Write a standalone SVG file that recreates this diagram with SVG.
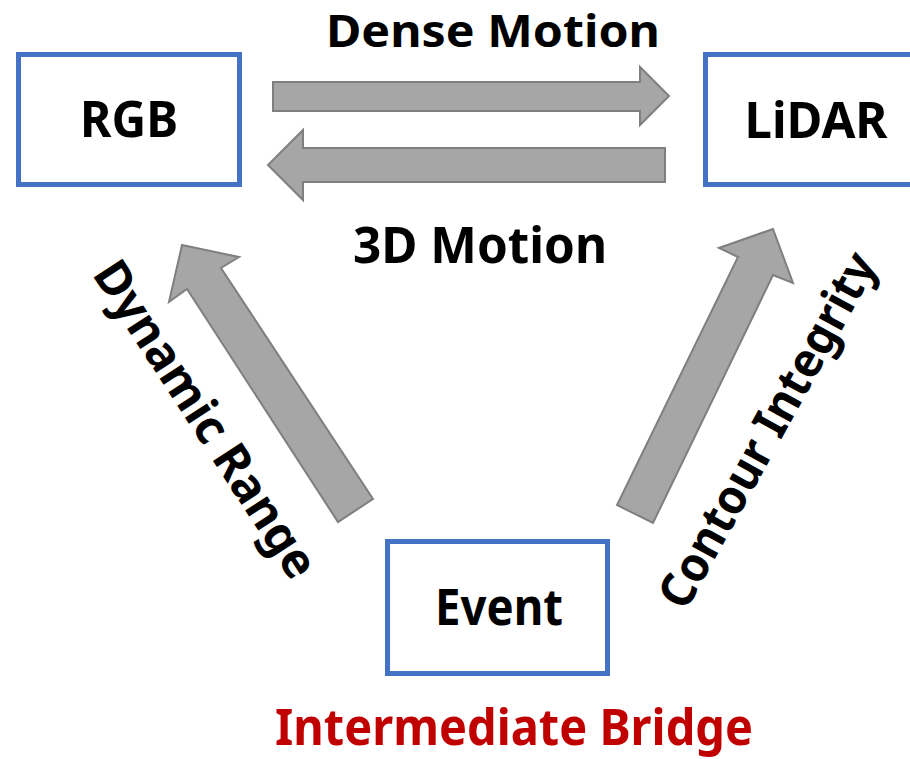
<svg xmlns="http://www.w3.org/2000/svg" width="910" height="759" viewBox="0 0 910 759">
  <style>
    .box { fill: #ffffff; stroke: #4472c4; stroke-width: 5; }
    .arrow { fill: #a6a6a6; stroke: #7f7f7f; stroke-width: 2; stroke-linejoin: miter; }
    .lbl { font-family: "Noto Sans", "Open Sans", "Liberation Sans", sans-serif; font-weight: bold; fill: #000000; text-anchor: middle; }
    .red { fill: #c00000; }
  </style>
  <rect width="910" height="759" fill="#ffffff"/>

  <!-- block arrows between the modalities -->
  <g id="connectors">
    <polygon class="arrow" points="273,82 640,82 640,67 669,96 640,125 640,111 273,111"/>
    <polygon class="arrow" points="665,148 303,148 303,130 268,165 303,200 303,182 665,182"/>
    <polygon class="arrow" points="182,245 239,257 221,268 373,499 338,522 187,289 169,302"/>
    <polygon class="arrow" points="773,229 793,283 773,275 653,523 617,505 738,257 719,248"/>
  </g>

  <!-- arrow labels -->
  <g id="labels">
    <text class="lbl" x="493" y="47" font-size="44" textLength="334" lengthAdjust="spacingAndGlyphs">Dense Motion</text>
    <text class="lbl" x="480" y="263" font-size="50" textLength="254" lengthAdjust="spacingAndGlyphs">3D Motion</text>
    <text class="lbl" font-size="48" transform="translate(206,419) rotate(57)" y="17" textLength="368" lengthAdjust="spacingAndGlyphs">Dynamic Range</text>
    <text class="lbl" font-size="48" transform="translate(767,430) rotate(-61)" y="17" textLength="398" lengthAdjust="spacingAndGlyphs">Contour Integrity</text>
    <text class="lbl red" x="514" y="745" font-size="50" textLength="478" lengthAdjust="spacingAndGlyphs">Intermediate Bridge</text>
  </g>

  <g id="rgb">
    <rect class="box" x="18.5" y="54.5" width="221" height="130"/>
    <text class="lbl" x="129" y="137" font-size="50" textLength="98" lengthAdjust="spacingAndGlyphs">RGB</text>
  </g>

  <g id="lidar">
    <rect class="box" x="705.5" y="54.5" width="221" height="130"/>
    <text class="lbl" x="816" y="138" font-size="50" textLength="143" lengthAdjust="spacingAndGlyphs">LiDAR</text>
  </g>

  <g id="event">
    <rect class="box" x="387.5" y="541.5" width="220" height="132"/>
    <text class="lbl" x="499" y="625" font-size="50" textLength="128" lengthAdjust="spacingAndGlyphs">Event</text>
  </g>
</svg>
